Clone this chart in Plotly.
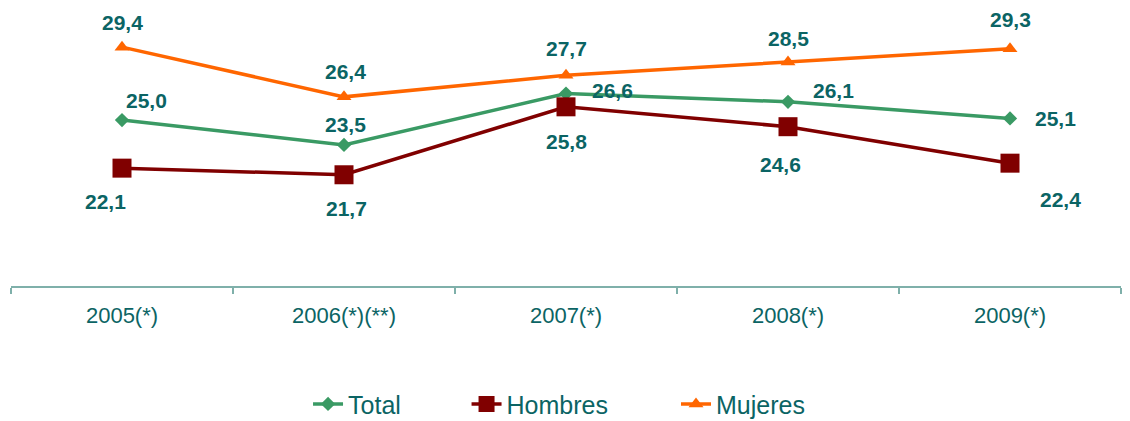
import plotly.graph_objects as go

categories = ["2005(*)", "2006(*)(**)", "2007(*)", "2008(*)", "2009(*)"]
total = [25.0, 23.5, 26.6, 26.1, 25.1]
hombres = [22.1, 21.7, 25.8, 24.6, 22.4]
mujeres = [29.4, 26.4, 27.7, 28.5, 29.3]

label_color = "#0b6464"
FONT = "Liberation Sans, Arial"

def fmt(v):
    return f"{v:.1f}".replace(".", ",")

fig = go.Figure()
fig.add_trace(go.Scatter(x=categories, y=total, name="Total", mode="lines+markers",
                         legend="legend",
                         line=dict(color="#3a9a64", width=3.5),
                         marker=dict(symbol="diamond", size=11, color="#3a9a64")))
fig.add_trace(go.Scatter(x=categories, y=hombres, name="Hombres", mode="lines+markers",
                         legend="legend2",
                         line=dict(color="#800000", width=3.5),
                         marker=dict(symbol="square", size=19, color="#800000")))
fig.add_trace(go.Scatter(x=categories, y=mujeres, name="Mujeres", mode="lines+markers",
                         legend="legend3",
                         line=dict(color="#ff6600", width=3.5),
                         marker=dict(symbol="triangle-up", size=13, color="#ff6600")))

offs_total = [(24, 20), (1, 20), (46, 3), (45, 11), (45, 0)]
offs_h = [(-17, -33), (2, -34), (0, -35), (-8, -38), (50, -36)]
offs_m = [(0, 25), (1, 25), (0, 27), (0, 24), (0, 29)]
for series, offs in ((total, offs_total), (hombres, offs_h), (mujeres, offs_m)):
    for c, v, (dx, dy) in zip(categories, series, offs):
        fig.add_annotation(x=c, y=v, text=fmt(v), showarrow=False, xshift=dx, yshift=dy,
                           font=dict(family=FONT, size=21, color=label_color, weight="bold"))

def leg(xpos):
    return dict(orientation="h", x=xpos, xanchor="left", y=-0.428, yanchor="middle",
                font=dict(size=25, color=label_color), bgcolor="rgba(0,0,0,0)")

fig.update_layout(
    width=1130, height=421,
    margin=dict(l=3, r=17, t=2, b=141),
    paper_bgcolor="white", plot_bgcolor="white",
    font=dict(family=FONT, color=label_color),
    showlegend=True,
    legend=leg(0.2676),
    legend2=leg(0.4104),
    legend3=leg(0.5991),
    xaxis=dict(type="category", showgrid=False, showline=True, linecolor="#7fb0aa", linewidth=2,
               ticks="outside", tickson="boundaries", ticklen=6, tickcolor="#7fb0aa", tickwidth=2,
               tickfont=dict(size=22, color=label_color), range=[-0.5, 4.5], ticklabelstandoff=9),
    yaxis=dict(visible=False, range=[14.99, 31.64]),
)

fig.write_html("out.html")
